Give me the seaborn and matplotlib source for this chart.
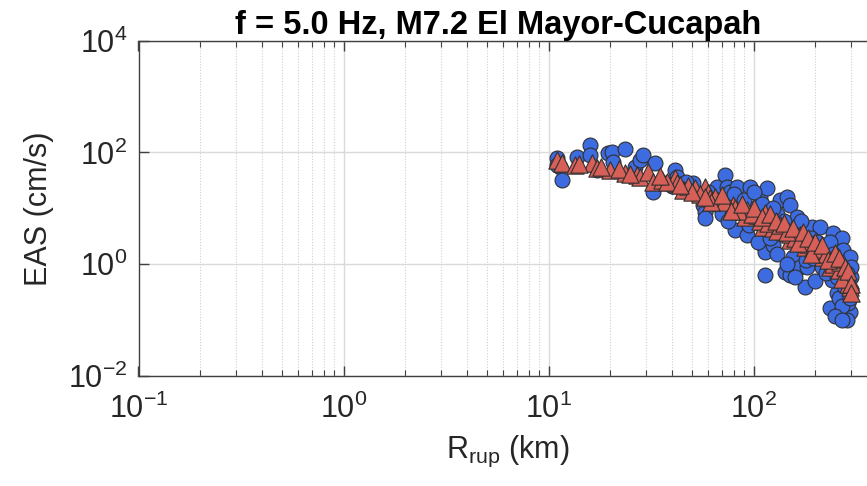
import numpy as np
import pandas as pd
import matplotlib
matplotlib.use("Agg")
import matplotlib.pyplot as plt
import seaborn as sns
from matplotlib.ticker import LogLocator, LogFormatterMathtext, NullFormatter, FixedLocator, NullLocator

# ---------------- data ----------------
obs_rrup = [11.0, 11.4, 11.6, 13.8, 15.9, 17.2, 19.5, 20.4, 20.6, 23.6, 26.4, 27.9, 28.9,
            33.1, 32.3, 41.4, 42.4, 50.7, 56.7, 58.0, 58.0, 66.4, 72.6, 74.3, 76.8, 83.2,
            81.3, 93.0, 96.2, 108, 116, 111, 114, 124, 114, 135, 146, 151, 142, 151, 156,
            163, 169, 178, 182, 193, 211, 228, 236, 244, 264, 270, 273, 296, 296, 286, 255,
            242, 11.0, 15.9, 47, 52, 62, 68, 88, 100, 105, 118, 128, 138, 160, 175, 200,
            220, 250, 280, 300, 260, 290, 120, 85, 95, 130, 190, 230, 200, 180, 270, 300,
            37, 45, 40,
            60, 65, 70, 75, 80, 90, 100, 110, 125, 140, 150, 165, 170, 185, 195, 205, 215,
            225, 235, 245, 255, 265, 275, 285, 295, 300, 250, 270, 105, 130, 145, 160, 95, 120]
obs_eas = [80, 55, 32, 83, 136, 49, 98, 102, 68, 116, 55, 73, 90,
           65, 20, 49, 36, 28, 11.5, 8.6, 6.7, 24, 40, 24, 20, 24,
           4.1, 3.3, 24, 16, 23, 2.2, 1.66, 2.2, 0.64, 14.1, 16, 11.5, 0.73, 0.64, 1.35,
           7.0, 0.89, 0.39, 0.89, 4.6, 4.6, 1.05, 0.165, 3.6, 0.135, 2.95, 1.8, 1.35, 0.14, 0.10, 0.31,
           0.52, 60, 90, 30, 18, 15, 14, 9, 8, 5.5, 6, 5, 3.5, 2.5, 2.2, 1.6,
           1.2, 0.8, 0.5, 0.6, 0.25, 0.2, 9, 12, 10, 8, 3, 2, 0.5, 1.2, 0.18, 0.9,
           28, 22, 25,
           20, 12, 8, 6, 18, 14, 20, 12, 10, 6, 4, 3.5, 6, 2, 1.3, 2.5, 0.9,
           0.7, 2.5, 1.5, 0.6, 0.9, 0.4, 0.7, 0.25, 0.35, 0.12, 0.1, 2.5, 1.5, 1.0, 0.6, 5, 3]

mod_rrup = [11.0, 11.6, 13.5, 16.3, 17.2, 20.0, 23.6, 27.0, 27.9, 30.6, 32.3, 35.8, 41.4,
            42.4, 45.3, 51.9, 58.0, 60.0, 61.4, 68.7, 79.4, 81.3, 93.0, 91.0, 104, 114, 111,
            124, 142, 151, 169, 178, 195, 218, 236, 255, 273, 286, 296, 296,
            14, 18, 22, 25, 38, 48, 55, 65, 72, 85, 98, 108, 118, 130, 135, 150, 160, 185,
            200, 210, 225, 245, 260, 280, 290, 265, 240, 170, 190, 145,
            62, 70, 78, 88, 100, 110, 120, 128, 140, 155, 165, 175, 185, 200, 215, 230, 250,
            260, 270, 280, 290, 300, 300, 50, 58, 35, 44]
mod_eas = [73, 65, 60, 65, 53, 49, 43, 40, 36, 45, 30, 32, 35,
           28, 21, 23, 24, 19, 15.4, 14.1, 11.5, 10.2, 9.4, 7.0, 7.6, 8.3, 4.6,
           4.5, 4.5, 2.7, 3.3, 2.0, 1.96, 1.35, 0.89, 1.19, 1.05, 0.59, 0.39, 0.52,
           62, 55, 50, 42, 30, 25, 18, 16, 13, 9, 8, 6, 5.5, 4, 5, 3.5, 3, 2.3,
           1.6, 1.9, 1.5, 1.0, 0.8, 0.7, 0.45, 1.1, 1.25, 2.5, 1.5, 3.8,
           13, 17, 9, 12, 10, 7, 8, 6, 5.5, 4.5, 2.4, 3.8, 3, 2.5, 2.2, 1.2, 1.6,
           1.3, 0.55, 0.9, 0.75, 0.45, 0.3, 20, 16, 38, 26]

title = "f = 5.0 Hz, M7.2 El Mayor-Cucapah"
xlabel = r"R$_{\mathregular{rup}}$ (km)"
ylabel = "EAS (cm/s)"
x_limits = (0.1, 400)
y_limits = (1e-2, 1e4)
y_ticks = [1e-2, 1e0, 1e2, 1e4]

# ---------------- style ----------------
sns.set_theme(style="white")
plt.rcParams["font.family"] = ["Liberation Sans", "DejaVu Sans"]
plt.rcParams["mathtext.default"] = "regular"

W, H = 867, 486
fig = plt.figure(figsize=(W / 100, H / 100), dpi=100)
left_px, right_px, top_px, bot_px = 138.5, 877, 40.7, 376
ax = fig.add_axes([left_px / W, 1 - bot_px / H, (right_px - left_px) / W, (bot_px - top_px) / H])

obs = pd.DataFrame({"R": obs_rrup, "EAS": obs_eas})
mod = pd.DataFrame({"R": mod_rrup, "EAS": mod_eas})

sns.scatterplot(data=obs, x="R", y="EAS", ax=ax, marker="o", s=115,
                color="#3D6BE0", edgecolor="#303030", linewidth=0.8, zorder=3)
sns.scatterplot(data=mod, x="R", y="EAS", ax=ax, marker="^", s=155,
                color="#D65F58", edgecolor="#303030", linewidth=0.8, zorder=4)

ax.set_xscale("log")
ax.set_yscale("log")
ax.set_xlim(*x_limits)
ax.set_ylim(*y_limits)

ax.xaxis.set_major_locator(LogLocator(base=10, numticks=10))
ax.xaxis.set_minor_locator(LogLocator(base=10, subs=np.arange(2, 10), numticks=100))
ax.xaxis.set_minor_formatter(NullFormatter())
ax.yaxis.set_major_locator(FixedLocator(y_ticks))
ax.yaxis.set_major_formatter(LogFormatterMathtext())
ax.yaxis.set_minor_locator(NullLocator())

ax.grid(True, which="major", color="#DADADA", linewidth=1.0, linestyle="-")
ax.grid(True, which="minor", axis="x", color="#CFCFCF", linewidth=0.8, linestyle=(0, (1, 1.5)))
ax.set_axisbelow(True)

for side in ["left", "bottom", "top"]:
    ax.spines[side].set_visible(True)
    ax.spines[side].set_color("#404040")
    ax.spines[side].set_linewidth(1.0)
ax.spines["right"].set_visible(False)

ax.tick_params(which="both", direction="in", top=True, bottom=True, left=True, right=False,
               colors="#404040", labelcolor="#262626")
ax.tick_params(which="major", length=7, width=1.0, labelsize=22)
ax.tick_params(which="minor", length=4, width=0.8)
ax.tick_params(axis="x", pad=13)
ax.tick_params(axis="y", pad=8)

ax.set_xlabel(xlabel, fontsize=22, color="#262626", labelpad=6)
ax.set_ylabel(ylabel, fontsize=22, color="#262626", labelpad=10)
ax.set_title(title, fontsize=23.5, fontweight="bold", color="black", x=0.487, pad=5)

fig.savefig("out.png", dpi=100)
